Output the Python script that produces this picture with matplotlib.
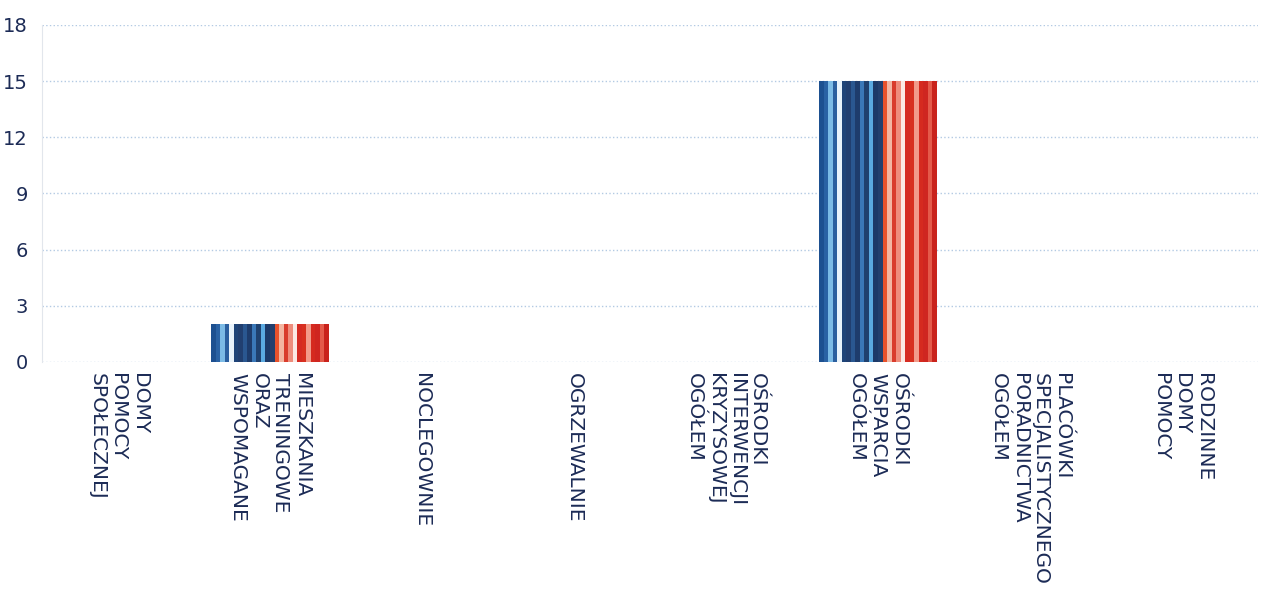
import numpy as np
import matplotlib
matplotlib.use("Agg")
import matplotlib.pyplot as plt
from matplotlib.colors import to_rgb

# chart data
categories = [
    "DOMY\nPOMOCY\nSPOŁECZNEJ",
    "MIESZKANIA\nTRENINGOWE\nORAZ\nWSPOMAGANE",
    "NOCLEGOWNIE",
    "OGRZEWALNIE",
    "OŚRODKI\nINTERWENCJI\nKRYZYSOWEJ\nOGÓŁEM",
    "OŚRODKI\nWSPARCIA\nOGÓŁEM",
    "PLACÓWKI\nSPECJALISTYCZNEGO\nPORADNICTWA\nOGÓŁEM",
    "RODZINNE\nDOMY\nPOMOCY",
]
values = [0, 2, 0, 0, 0, 15, 0, 0]
y_ticks = [0, 3, 6, 9, 12, 15, 18]

# stripe texture used to fill the bars (blue -> red)
stripes = ["#1d5090", "#2a62a4", "#7cbbe6", "#2b5f9f", "#e9f3fb", "#1f4478",
           "#213f70", "#2a5790", "#1e3c6c", "#3a78b8", "#1f416f", "#5aa9e0",
           "#1c3968", "#223f6e", "#e8522c", "#f3b6a2", "#d93c2c", "#ee8d7c",
           "#fbe9e4", "#d52b22", "#d8301f", "#f29b8a", "#d52a1f", "#cf2620",
           "#e45a4a", "#c9231c"]

text_color = "#1c2b56"
grid_color = "#b3cae3"

plt.rcParams['font.family'] = ['DejaVu Sans']

fig = plt.figure(figsize=(12.61, 6.04), dpi=100)
ax = fig.add_axes([0.0333, 0.4007, 0.9643, 0.558])

x = np.arange(len(categories))
bars = ax.bar(x, values, width=0.77, color="none", zorder=3)

img = np.array([[to_rgb(c) for c in stripes]])
for b in bars:
    h = b.get_height()
    if h <= 0:
        continue
    x0 = b.get_x()
    ax.imshow(img, extent=(x0, x0 + b.get_width(), 0, h), aspect="auto",
              interpolation="nearest", zorder=3)

ax.set_xlim(-0.5, len(categories) - 0.5)
ax.set_ylim(0, 18)
ax.set_yticks(y_ticks)
ax.set_xticks(x)
ax.set_xticklabels(categories, rotation=-90, ha="center", va="top",
                   multialignment="left", linespacing=1.15, fontsize=14.5,
                   color=text_color)
ax.tick_params(axis="y", length=0, pad=10, labelsize=14, labelcolor=text_color)
ax.tick_params(axis="x", length=0, pad=8)

ax.grid(axis="y", color=grid_color, linestyle=":", linewidth=1.0, zorder=0)
for side in ["top", "right", "bottom"]:
    ax.spines[side].set_visible(False)
ax.spines["left"].set_color("#e2e6ec")
ax.spines["left"].set_linewidth(0.8)

fig.savefig("out.png", dpi=100)
